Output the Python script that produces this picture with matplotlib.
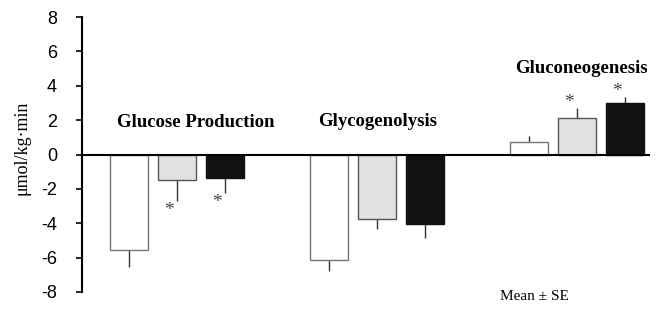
import numpy as np
import matplotlib.pyplot as plt

# values (umol/kg.min)
groups = ['Glucose Production', 'Glycogenolysis', 'Gluconeogenesis']
white_vals = [-5.58, -6.16, 0.70]
white_err = [0.99, 0.64, 0.40]
gray_vals = [-1.51, -3.78, 2.15]
gray_err = [1.22, 0.58, 0.58]
black_vals = [-1.34, -4.07, 2.97]
black_err = [0.92, 0.76, 0.40]
# significance marks: (group, series)
stars = [(0, 1), (0, 2), (2, 1), (2, 2)]
yticks = [-8, -6, -4, -2, 0, 2, 4, 6, 8]

serif = ['Liberation Serif', 'DejaVu Serif']
sans = ['Liberation Sans', 'DejaVu Sans']

fig = plt.figure(figsize=(6.69, 3.22), dpi=100)
ax = fig.add_axes([82 / 669, 1 - 292 / 322, (650 - 82) / 669, (292 - 17) / 322])

x = np.arange(len(groups))
offset = 0.24
width = 0.19
series = [
    (white_vals, white_err, 'white', '#777777'),
    (gray_vals, gray_err, '#e2e2e2', '#555555'),
    (black_vals, black_err, '#111111', '#111111'),
]
for k, (vals, errs, fc, ec) in enumerate(series):
    pos = x + (k - 1) * offset
    ax.bar(pos, vals, width, color=fc, edgecolor=ec, linewidth=1.0, zorder=2)
    vals = np.array(vals)
    errs = np.array(errs)
    # one-sided error bars, pointing away from zero
    lower = np.where(vals < 0, errs, 0)
    upper = np.where(vals > 0, errs, 0)
    ax.errorbar(pos, vals, yerr=[lower, upper], fmt='none', ecolor='#333333',
                elinewidth=1.0, capsize=0, zorder=1)

for g, k in stars:
    vals = [white_vals, gray_vals, black_vals][k]
    errs = [white_err, gray_err, black_err][k]
    v = vals[g]
    e = errs[g]
    yy = v - e - 0.55 if v < 0 else v + e + 0.3
    ax.text(g + (k - 1) * offset - 0.04, yy, '*', ha='center', va='center',
            fontsize=14, color='#444444', family=serif)

ax.axhline(0, color='black', linewidth=1.5, zorder=3)
ax.set_xlim(-0.475, 2.365)
ax.set_ylim(-8, 8)
ax.set_yticks(yticks)
ax.set_yticklabels([str(t) for t in yticks], family=sans, fontsize=13)
ax.tick_params(axis='y', direction='out', length=4, width=1.2, pad=14)
ax.set_xticks([])
for side in ['top', 'right', 'bottom']:
    ax.spines[side].set_visible(False)
ax.spines['left'].set_linewidth(1.5)
ax.patch.set_alpha(0)

fig.text(22 / 669, 1 - 148 / 322, '\u03bcmol/kg\u00b7min', family=serif,
         fontsize=13, rotation=90, ha='center', va='center')

label_pos = [(-0.30, 1.86), (0.705, 1.92), (1.69, 5.0)]
for name, (lx, ly) in zip(groups, label_pos):
    ax.text(lx, ly, name, ha='left', va='center', fontsize=13.5,
            fontweight='bold', family=serif)

fig.text(500 / 669, 1 - 296 / 322, 'Mean \u00b1 SE', ha='left', va='center',
         fontsize=11, family=serif)

fig.savefig('out.png', dpi=100)
